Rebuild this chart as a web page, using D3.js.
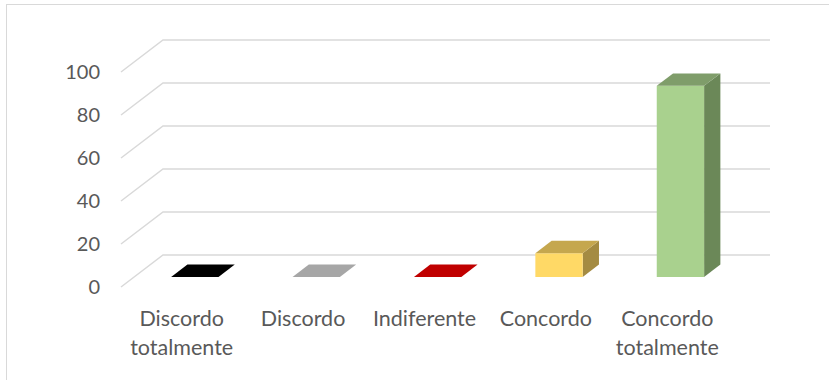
<!DOCTYPE html>
<html>
<head>
<meta charset="utf-8">
<script src="https://cdn.jsdelivr.net/npm/d3@7"></script>
<style>
  html, body { margin: 0; padding: 0; background: #fff; }
  svg { display: block; }
</style>
</head>
<body>
<svg id="chart" width="829" height="380"></svg>
<script>
// Response categories (x axis), each with one or two label lines
const categories = ["Discordo totalmente", "Discordo", "Indiferente", "Concordo", "Concordo totalmente"];
const labelLines = [["Discordo", "totalmente"], ["Discordo"], ["Indiferente"], ["Concordo"], ["Concordo", "totalmente"]];
// Percentage of answers per category
const values = [0, 0, 0, 11.1, 88.9];
// Value axis ticks
const yTicks = [0, 20, 40, 60, 80, 100];
// Face colours per bar: front, top, side
const frontColors = ["#000000", "#a6a6a6", "#c00000", "#ffd966", "#a9d18e"];
const topColors   = ["#000000", "#a6a6a6", "#c00000", "#c5a74e", "#7f9d6a"];
const sideColors  = ["#000000", "#a6a6a6", "#c00000", "#a48b42", "#6b8858"];

const svg = d3.select("#chart");
const W = 829, H = 380;

// Outer chart frame
svg.append("rect")
  .attr("x", 6.5).attr("y", 4.5)
  .attr("width", W + 10).attr("height", H + 10)
  .attr("fill", "#fff").attr("stroke", "#d9d9d9").attr("stroke-width", 1);

// Oblique projection: depth fraction 0 = back wall, 1 = front edge of floor
const DX = -42, DY = 32;
const proj = (x, y, d) => [x + DX * d, y + DY * d];

// Scales on the back wall plane
const x = d3.scaleBand().domain(categories).range([163, 770]).paddingInner(0).paddingOuter(0);
const y = d3.scaleLinear().domain([0, 100]).range([255, 40]);

const grid = svg.append("g").attr("stroke", "#d9d9d9").attr("stroke-width", 1.5).attr("fill", "none");
yTicks.forEach(t => {
  const yb = y(t);
  const [fx, fy] = proj(163, yb, 1);
  grid.append("path").attr("d", `M${fx},${fy}L163,${yb}L770,${yb}`);
});

// Tick labels, placed at the front edge
const tickG = svg.append("g")
  .attr("font-family", "Lato, 'Open Sans', sans-serif")
  .attr("font-size", 20).attr("fill", "#595959").attr("text-anchor", "end");
yTicks.forEach(t => {
  const [, fy] = proj(163, y(t), 1);
  tickG.append("text").attr("x", 100).attr("y", fy).attr("dy", "0.35em").text(t);
});

// 3D bars: a box spanning depth d0..d1 within the floor
const d0 = 0.30, d1 = 0.6875;
const barW = x.bandwidth() * 0.39;
const bars = svg.append("g");
categories.forEach((c, i) => {
  const cx = x(c) + x.bandwidth() / 2;
  const xl = cx - barW / 2, xr = cx + barW / 2;
  const yb = y(0), yt = y(values[i]);
  const P = (xx, yy, d) => proj(xx, yy, d).join(",");
  const g = bars.append("g");
  if (values[i] > 0) {
    // side face
    g.append("path").attr("fill", sideColors[i])
      .attr("d", `M${P(xr, yt, d1)}L${P(xr, yt, d0)}L${P(xr, yb, d0)}L${P(xr, yb, d1)}Z`);
    // front face
    g.append("path").attr("fill", frontColors[i])
      .attr("d", `M${P(xl, yt, d1)}L${P(xr, yt, d1)}L${P(xr, yb, d1)}L${P(xl, yb, d1)}Z`);
  }
  // top face
  g.append("path").attr("fill", topColors[i])
    .attr("d", `M${P(xl, yt, d1)}L${P(xr, yt, d1)}L${P(xr, yt, d0)}L${P(xl, yt, d0)}Z`);
});

// Category labels centred under each band at the front edge
const catG = svg.append("g")
  .attr("font-family", "Lato, 'Open Sans', sans-serif")
  .attr("font-size", 21.5).attr("fill", "#595959").attr("text-anchor", "middle");
categories.forEach((c, i) => {
  const [fx] = proj(x(c) + x.bandwidth() / 2, 0, 1);
  const t = catG.append("text").attr("x", fx).attr("y", 318);
  labelLines[i].forEach((ln, k) => {
    t.append("tspan").attr("x", fx).attr("dy", k === 0 ? "0.35em" : 29).text(ln);
  });
});
</script>
</body>
</html>
